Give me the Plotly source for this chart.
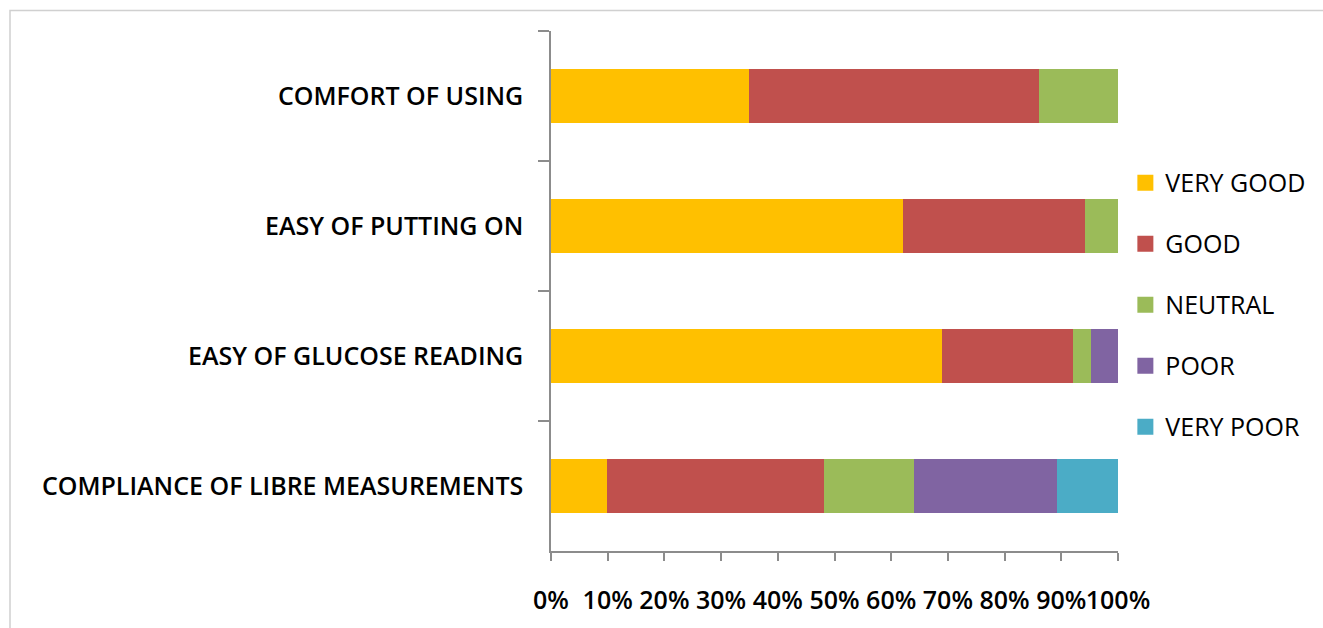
import plotly.graph_objects as go

# Survey items, listed top to bottom
categories = [
    "COMFORT OF USING",
    "EASY OF PUTTING ON",
    "EASY OF GLUCOSE READING",
    "COMPLIANCE OF LIBRE MEASUREMENTS",
]

# Share of answers per rating (%), one value per item above
very_good = [35.0, 62.1, 68.9, 9.8]
good = [51.1, 32.1, 23.1, 38.3]
neutral = [13.9, 5.8, 3.2, 15.9]
poor = [0.0, 0.0, 4.8, 25.3]
very_poor = [0.0, 0.0, 0.0, 10.7]

series_names = ["VERY GOOD", "GOOD", "NEUTRAL", "POOR", "VERY POOR"]
series_values = [very_good, good, neutral, poor, very_poor]
series_colors = ["#FFC000", "#C0504D", "#9BBB59", "#8064A2", "#4BACC6"]

x_ticks = list(range(0, 101, 10))

FONT = "Open Sans"
AXIS_GREY = "#8C8C8C"
TEXT_FONT = dict(family=FONT, size=25, color="black", weight=600)

fig = go.Figure()

for name, vals, color in zip(series_names, series_values, series_colors):
    fig.add_trace(go.Bar(
        y=categories, x=vals, name=name, orientation="h",
        marker=dict(color=color, line=dict(width=0)),
        showlegend=False, hoverinfo="x+y+name",
    ))

# Larger square swatches for the legend
for i, (name, color) in enumerate(zip(series_names, series_colors)):
    fig.add_trace(go.Scatter(
        x=[None], y=[None], mode="markers", name=name,
        marker=dict(symbol="square", size=18, color=color),
        legendgroup=f"g{i}", showlegend=True,
    ))

fig.update_layout(
    barmode="stack",
    bargap=0.59,
    width=1323, height=628,
    margin=dict(l=551, r=205, t=31, b=77, autoexpand=False),
    paper_bgcolor="white", plot_bgcolor="white",
    font=TEXT_FONT,
    legend=dict(
        x=1.013, xanchor="left", y=0.752, yanchor="top",
        traceorder="grouped", tracegroupgap=25.5,
        font=dict(family=FONT, size=25, color="black", weight=500),
        itemwidth=30,
    ),
    xaxis=dict(
        range=[0, 100], tickmode="array", tickvals=x_ticks,
        ticktext=[f"{v}%" for v in x_ticks],
        tickangle=0, automargin=False,
        showgrid=False, zeroline=False,
        showline=True, linecolor=AXIS_GREY, linewidth=1.5,
        ticks="outside", ticklen=8, tickcolor=AXIS_GREY, tickwidth=1.5,
        ticklabelstandoff=18,
        tickfont=TEXT_FONT,
    ),
    yaxis=dict(
        categoryorder="array", categoryarray=categories,
        autorange="reversed", automargin=False,
        showgrid=False, zeroline=False,
        showline=True, linecolor=AXIS_GREY, linewidth=1.5,
        ticks="outside", ticklen=11, tickcolor=AXIS_GREY, tickwidth=1.5,
        tickson="boundaries", ticklabelstandoff=21,
        tickfont=TEXT_FONT,
    ),
    shapes=[
        # outer frame of the chart area (top and left edges visible)
        dict(type="rect", xref="paper", yref="paper",
             x0=(10 - 551) / 567, x1=(1340 - 551) / 567,
             y0=(551 - 640) / 520, y1=(551 - 10.5) / 520,
             line=dict(color="#D0D0D0", width=1.5), layer="below"),
    ],
)

fig.write_html("out.html")
